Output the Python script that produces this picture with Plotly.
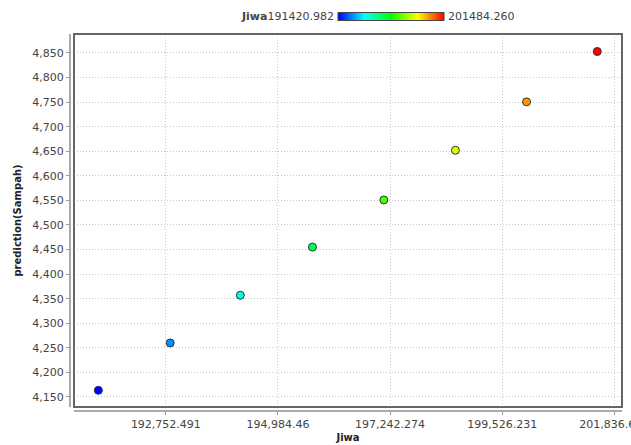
import plotly.graph_objects as go

# ---- data ----
jiwa = [191420.982, 192838.0, 194232.0, 195676.0, 197116.0, 198570.0, 200026.0, 201484.260]
prediction = [4163.5, 4260.0, 4357.0, 4455.0, 4551.0, 4652.0, 4750.5, 4853.0]
x_tickvals = [192752.491, 194984.46, 197242.274, 199526.231, 201836.636]
x_ticktext = ["192,752.491", "194,984.46", "197,242.274", "199,526.231", "201,836.636"]
y_tickvals = [4150, 4200, 4250, 4300, 4350, 4400, 4450, 4500, 4550, 4600, 4650, 4700, 4750, 4800, 4850]
y_ticktext = ["{:,}".format(v) for v in y_tickvals]

W, H = 631, 445
L, R, T, B = 70, 9, 34, 34
pw, ph = W - L - R, H - T - B
gap = 4

colorscale = [[0.0, "#0000ff"], [0.25, "#00ffff"], [0.5, "#00ff00"],
              [0.75, "#ffff00"], [1.0, "#ff0000"]]

font = "DejaVu Sans"

fig = go.Figure(go.Scatter(
    x=jiwa, y=prediction, mode="markers",
    marker=dict(
        size=8, color=jiwa, colorscale=colorscale,
        cmin=min(jiwa), cmax=max(jiwa),
        line=dict(color="#333333", width=1),
        showscale=True,
        colorbar=dict(
            orientation="h",
            x=(391 - L) / pw, y=(H - B - 17) / ph, xanchor="center", yanchor="middle",
            lenmode="pixels", len=106, thickness=8,
            xpad=0, ypad=0, outlinewidth=1, outlinecolor="#444444",
            showticklabels=False, ticks="",
        ),
    ),
    showlegend=False,
))

grid = dict(showgrid=True, gridcolor="#c8c8c8", griddash="1px,2px", gridwidth=1, zeroline=False)

fig.update_layout(
    width=W, height=H,
    margin=dict(l=L, r=R, t=T, b=B, pad=0, autoexpand=False),
    paper_bgcolor="white", plot_bgcolor="white",
    font=dict(family=font, size=11, color="#444444"),
    xaxis=dict(
        type="log", range=[5.280903, 5.305344],
        domain=[gap / pw, 1], anchor="free", position=0, automargin=False,
        tickvals=x_tickvals, ticktext=x_ticktext, ticklabeloverflow="allow",
        ticks="outside", ticklen=3, tickcolor="#999999",
        showline=True, linecolor="#aaaaaa", linewidth=2,
        title=dict(text="<b>Jiwa</b>", font=dict(size=10, color="#222222"), standoff=3),
        **grid,
    ),
    yaxis=dict(
        range=[4129.6, 4888.6],
        domain=[gap / ph, 1], anchor="free", position=0, automargin=False,
        tickvals=y_tickvals, ticktext=y_ticktext, ticklabeloverflow="allow",
        ticks="outside", ticklen=3, tickcolor="#999999",
        showline=True, linecolor="#aaaaaa", linewidth=2,
        title=dict(text="<b>prediction(Sampah)</b>", font=dict(size=10, color="#222222"), standoff=8),
        **grid,
    ),
    shapes=[dict(type="rect", xref="x domain", yref="y domain", x0=0, x1=1, y0=0, y1=1,
                 line=dict(color="#666666", width=2), layer="above")],
    annotations=[
        dict(text="<b>Jiwa</b>" + "{:.3f}".format(min(jiwa)), xref="paper", yref="paper",
             x=(336 - L) / pw, y=(H - B - 17) / ph, xanchor="right", yanchor="middle",
             showarrow=False, font=dict(size=11, color="#444444")),
        dict(text="{:.3f}".format(max(jiwa)), xref="paper", yref="paper",
             x=(446 - L) / pw, y=(H - B - 17) / ph, xanchor="left", yanchor="middle",
             showarrow=False, font=dict(size=11, color="#444444")),
    ],
)

fig.write_html("out.html", config={"displayModeBar": False},
               post_script="document.body.style.margin='0';document.body.style.padding='0';")
